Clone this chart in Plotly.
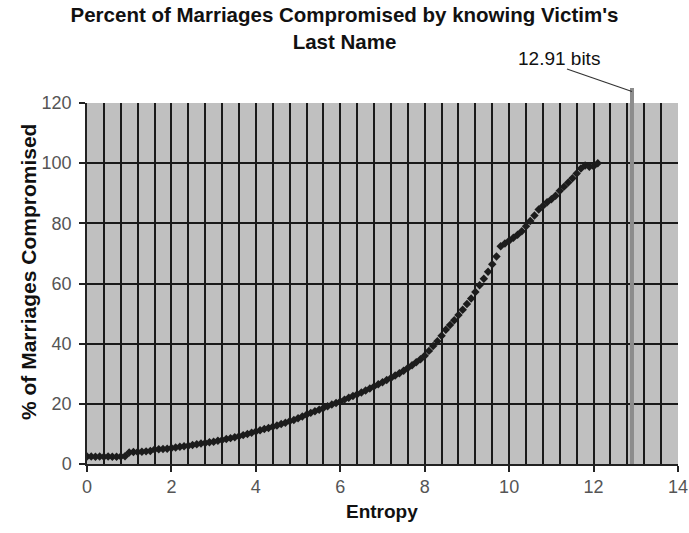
import plotly.graph_objects as go

# ---- data ----
entropy = [round(i * 0.1, 1) for i in range(0, 122)]
pct_compromised = [
    2.5, 2.5, 2.4, 2.5, 2.4, 2.5, 2.4, 2.4, 2.5, 2.6,
    3.8, 4.0, 4.0, 4.1, 4.2, 4.3, 4.8, 4.9, 5.0, 5.1,
    5.3, 5.5, 5.7, 5.9, 6.1, 6.3, 6.6, 6.8, 7.0, 7.2,
    7.4, 7.7, 8.0, 8.3, 8.6, 8.9, 9.2, 9.6, 10.0, 10.4,
    10.8, 11.2, 11.6, 12.0, 12.4, 12.8, 13.3, 13.7, 14.2, 14.6,
    15.2, 15.8, 16.4, 17.0, 17.5, 18.0, 18.6, 19.2, 19.8, 20.3,
    20.8, 21.4, 22.0, 22.6, 23.2, 23.8, 24.4, 25.1, 25.8, 26.5,
    27.2, 27.9, 28.6, 29.4, 30.2, 31.0, 31.9, 32.8, 33.8, 34.8,
    36.0, 37.6, 39.2, 40.8, 42.6, 44.6, 46.2, 47.8, 49.5, 51.3,
    53.2, 55.0, 57.2, 59.4, 61.6, 63.9, 66.4, 69.0, 72.4, 73.3,
    74.2, 75.2, 76.2, 77.4, 79.0, 80.8, 82.6, 84.6, 85.8, 87.0,
    88.0, 89.2, 90.8, 92.2, 93.6, 95.0, 96.6, 98.2, 99.2, 98.8,
    99.0, 100.0,
]
max_entropy_bits = 12.91
marker_label = "12.91 bits"
x_ticks = [0, 2, 4, 6, 8, 10, 12, 14]
y_ticks = [0, 20, 40, 60, 80, 100, 120]

title_text = "Percent of Marriages Compromised by knowing Victim's<br>Last Name"
x_title = "Entropy"
y_title = "% of Marriages Compromised"

W, H = 689, 533
ML, MR, MT, MB = 87, 11, 103, 69
PW, PH = W - ML - MR, H - MT - MB

def px_to_paper_x(px):
    return (px - ML) / PW

def px_to_paper_y(py):
    return (H - MB - py) / PH

fig = go.Figure()
fig.add_trace(go.Scatter(
    x=entropy, y=pct_compromised, mode="markers",
    marker=dict(symbol="diamond", size=6.5, color="#1c1c1c", line=dict(width=0)),
    showlegend=False, hoverinfo="x+y",
))

# vertical marker line at the maximum entropy, extending above the plot
fig.add_shape(type="line", xref="x", yref="paper",
              x0=max_entropy_bits, x1=max_entropy_bits, y0=0, y1=px_to_paper_y(88),
              line=dict(color="#8c8c8c", width=4), layer="above")
# leader line from label to marker line
fig.add_shape(type="line", xref="x", yref="paper",
              x0=max_entropy_bits - 1.54, x1=max_entropy_bits,
              y0=px_to_paper_y(69), y1=px_to_paper_y(91.5),
              line=dict(color="#333333", width=1.2), layer="above")
fig.add_annotation(x=px_to_paper_x(559), xref="paper", y=px_to_paper_y(58), yref="paper",
                   text=marker_label, showarrow=False,
                   font=dict(family="Arial, Liberation Sans", size=19, color="#111111"),
                   xanchor="center", yanchor="middle")

# y-axis title as rotated annotation (slightly above plot center like the reference)
fig.add_annotation(x=px_to_paper_x(28), xref="paper", y=px_to_paper_y(272), yref="paper",
                   text=f"<b>{y_title}</b>", showarrow=False, textangle=-90,
                   font=dict(family="Arial, Liberation Sans", size=21, color="#111111"),
                   xanchor="center", yanchor="middle")

# x-axis title
fig.add_annotation(x=px_to_paper_x(382), xref="paper", y=px_to_paper_y(511), yref="paper",
                   text=f"<b>{x_title}</b>", showarrow=False,
                   font=dict(family="Arial, Liberation Sans", size=19, color="#111111"),
                   xanchor="center", yanchor="middle")

fig.update_layout(
    width=W, height=H,
    margin=dict(l=ML, r=MR, t=MT, b=MB, autoexpand=False),
    paper_bgcolor="white", plot_bgcolor="#c0c0c0",
    title=dict(text=f"<b>{title_text}</b>", x=0.5, xanchor="center",
               y=1 - 22 / H, yanchor="middle", yref="container",
               font=dict(family="Arial, Liberation Sans", size=20.5, color="#111111")),
    font=dict(family="Arial, Liberation Sans", color="#555555"),
)
fig.update_xaxes(
    range=[0, 14], tickvals=x_ticks, ticktext=[str(v) for v in x_ticks],
    ticks="outside", ticklen=6, tickcolor="#222222", tickwidth=1.5,
    tickfont=dict(size=18, color="#555555"),
    showline=True, linecolor="#222222", linewidth=1.5,
    showgrid=True, gridcolor="#1a1a1a", gridwidth=1.5,
    minor=dict(dtick=0.4, tick0=0, showgrid=True, gridcolor="#1a1a1a", gridwidth=1.5),
    zeroline=False, automargin=False,
)
fig.update_yaxes(
    range=[0, 120], tickvals=y_ticks, ticktext=[str(v) for v in y_ticks],
    ticks="outside", ticklen=6, tickcolor="#222222", tickwidth=1.5,
    tickfont=dict(size=18, color="#555555"), ticklabelstandoff=4,
    showline=True, linecolor="#222222", linewidth=1.5,
    showgrid=True, gridcolor="#1a1a1a", gridwidth=1.5,
    zeroline=False, automargin=False,
)

fig.write_html("out.html", config={"displayModeBar": False},
               post_script="document.body.style.margin='0';document.body.style.padding='0';")
